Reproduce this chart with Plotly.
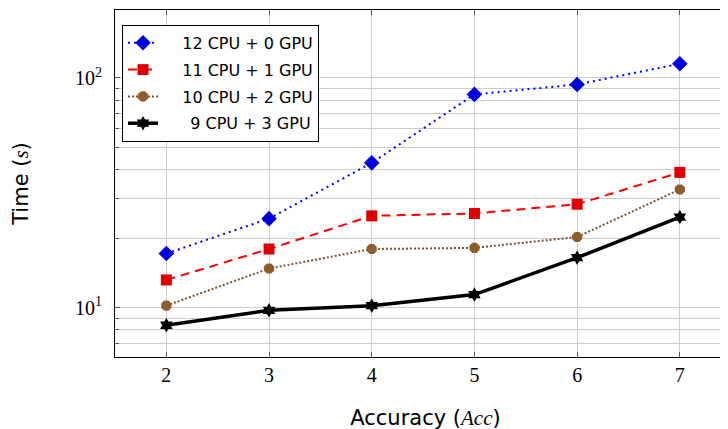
import plotly.graph_objects as go

acc = [2, 3, 4, 5, 6, 7]
t_12cpu_0gpu = [17.2, 24.4, 42.7, 84.8, 93.7, 115.3]
t_11cpu_1gpu = [13.2, 18.0, 25.1, 25.7, 28.2, 38.8]
t_10cpu_2gpu = [10.2, 14.8, 18.0, 18.2, 20.3, 32.7]
t_9cpu_3gpu = [8.38, 9.73, 10.2, 11.4, 16.5, 24.8]

pad = "\u2002\u2002\u2009"
names = [pad + "12 CPU + 0 GPU", pad + "11 CPU + 1 GPU",
         pad + "10 CPU + 2 GPU", pad + "\u2002" + "9 CPU + 3 GPU"]
x_ticks = [2, 3, 4, 5, 6, 7]
y_major = [10, 100]
y_major_text = ["10<sup>1</sup>", "10<sup>2</sup>"]
y_minor = [7, 8, 9, 20, 30, 40, 50, 60, 70, 80, 90, 200]

styles = [
    dict(line=dict(color="#0000ff", width=2, dash="2px,4px"),
         marker=dict(symbol="diamond", size=12, color="#0000dd")),
    dict(line=dict(color="#ff0000", width=2, dash="9px,6px"),
         marker=dict(symbol="square", size=11, color="#e00000")),
    dict(line=dict(color="#7a5230", width=2, dash="2px,2px"),
         marker=dict(symbol="octagon", size=11, color="#8f5c2c")),
    dict(line=dict(color="#000000", width=3.5),
         marker=dict(symbol="hexagram", size=11, color="#000000")),
]
series = [t_12cpu_0gpu, t_11cpu_1gpu, t_10cpu_2gpu, t_9cpu_3gpu]

fig = go.Figure()
for i, (nm, ys, st) in enumerate(zip(names, series, styles)):
    fig.add_trace(go.Scatter(x=acc, y=ys, name=nm, mode="lines+markers",
                             legendgroup=str(i), **st))

serif = "Liberation Serif, DejaVu Serif, serif"
sans = "DejaVu Sans, sans-serif"

# the page body has an 8px margin, so the figure is offset by (8, 8) in the window
fig.update_layout(
    width=728, height=429,
    margin=dict(l=107, r=0, t=2, b=80, autoexpand=False),
    paper_bgcolor="white", plot_bgcolor="white",
    showlegend=True,
    legend=dict(x=0.0113, y=0.957, xanchor="left", yanchor="top",
                bordercolor="#000000", borderwidth=1, bgcolor="white",
                font=dict(family=sans, size=16, color="#000000"),
                traceorder="grouped", tracegroupgap=3),
    xaxis=dict(range=[1.5, 7.547], tickvals=x_ticks, ticks="inside", ticklen=5,
               tickcolor="#555", showline=True, linecolor="#000", linewidth=1,
               mirror="ticks", showgrid=True, gridcolor="#cccccc", gridwidth=1,
               zeroline=False, automargin=False,
               tickfont=dict(family=serif, size=20, color="#000"),
               title=dict(text="Accuracy (<span style=\"font-family:Liberation Serif\"><i>Acc</i></span>)",
                          font=dict(family=sans, size=21, color="#000"), standoff=25)),
    yaxis=dict(type="log", range=[0.785, 2.296], tickvals=y_major, ticktext=y_major_text,
               ticks="inside", ticklen=5, tickcolor="#555", showline=True,
               linecolor="#000", linewidth=1, showgrid=True, gridcolor="#cccccc",
               gridwidth=1, zeroline=False, automargin=False, ticklabelstandoff=8,
               minor=dict(tickvals=y_minor, ticks="inside", ticklen=4, tickcolor="#555",
                          showgrid=True, gridcolor="#cccccc", gridwidth=1),
               tickfont=dict(family=serif, size=20, color="#000"),
               title=dict(text="Time (<span style=\"font-family:Liberation Serif\"><i>s</i></span>)",
                          font=dict(family=sans, size=21, color="#000"), standoff=40)),
)

fig.write_html("out.html")
